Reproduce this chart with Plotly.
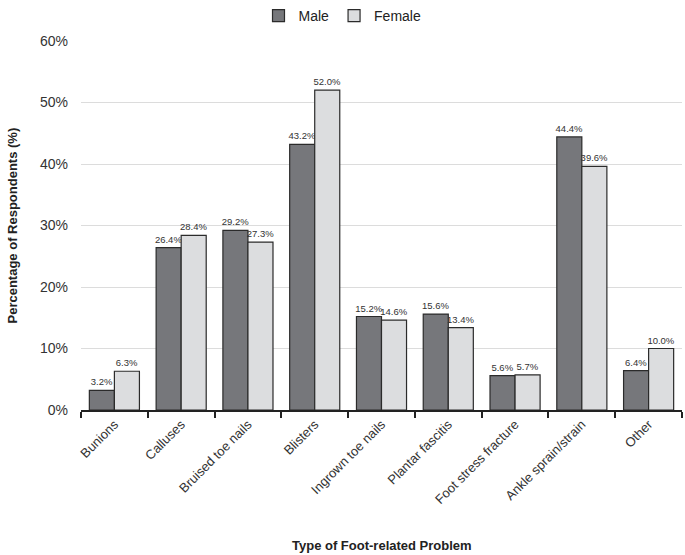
import plotly.graph_objects as go

categories = ["Bunions", "Calluses", "Bruised toe nails", "Blisters", "Ingrown toe nails",
              "Plantar fascitis", "Foot stress fracture", "Ankle sprain/strain", "Other"]
male = [3.2, 26.4, 29.2, 43.2, 15.2, 15.6, 5.6, 44.4, 6.4]
female = [6.3, 28.4, 27.3, 52.0, 14.6, 13.4, 5.7, 39.6, 10.0]
y_ticks = [0, 10, 20, 30, 40, 50, 60]

font_family = "Liberation Sans, Arial, sans-serif"

W, H = 685, 555
ML, MR, MT, MB = 81, 3, 41, 145

fig = go.Figure()
fig.add_trace(go.Bar(
    name="Male", x=categories, y=male,
    marker=dict(color="#76777b", line=dict(color="#2b2b2b", width=1.2)),
    text=[f"{v:.1f}%" for v in male], textposition="outside", textangle=0,
    constraintext="none",
    textfont=dict(size=9.5, color="#333333", family=font_family), cliponaxis=False,
))
fig.add_trace(go.Bar(
    name="Female", x=categories, y=female,
    marker=dict(color="#dcdddf", line=dict(color="#2b2b2b", width=1.2)),
    text=[f"{v:.1f}%" for v in female], textposition="outside", textangle=0,
    constraintext="none",
    textfont=dict(size=9.5, color="#333333", family=font_family), cliponaxis=False,
))

plot_h = H - MT - MB
fig.update_layout(
    width=W, height=H,
    margin=dict(l=ML, r=MR, t=MT, b=MB, autoexpand=False),
    paper_bgcolor="white", plot_bgcolor="white",
    barmode="group", bargap=0.25, bargroupgap=0,
    font=dict(family=font_family, color="#333333", size=13),
    legend=dict(orientation="h", x=0.5, xanchor="center", xref="container",
                y=1.0, yanchor="top", yref="container",
                font=dict(size=14, color="#222222"),
                itemwidth=30, traceorder="normal"),
    showlegend=True,
    annotations=[
        dict(text="<b>Type of Foot-related Problem</b>", xref="paper", yref="paper",
             x=0.5, y=-(545 - (MT + plot_h)) / plot_h, xanchor="center", yanchor="middle",
             showarrow=False, font=dict(size=13, color="#222222")),
        dict(text="<b>Percentage of Respondents (%)</b>", xref="paper", yref="paper",
             x=-(ML - 12) / (W - ML - MR), y=0.5, xanchor="center", yanchor="middle",
             textangle=-90, showarrow=False, font=dict(size=13, color="#222222")),
    ],
)
fig.update_xaxes(
    tickangle=-45, showline=True, linecolor="#222222", linewidth=1.5,
    ticks="outside", tickson="boundaries", ticklen=6, tickcolor="#222222", tickwidth=1.5,
    tickfont=dict(size=13, color="#333333"), automargin=False,
)
fig.update_yaxes(
    range=[0, 60], tickvals=y_ticks, ticktext=[f"{v}%" for v in y_ticks],
    showgrid=True, gridcolor="#dcdcdc", gridwidth=1, zeroline=False,
    tickfont=dict(size=14, color="#333333"), automargin=False, ticklabelstandoff=12,
)

fig.write_html("out.html", config={"displayModeBar": False},
               post_script="document.body.style.margin='0';")
